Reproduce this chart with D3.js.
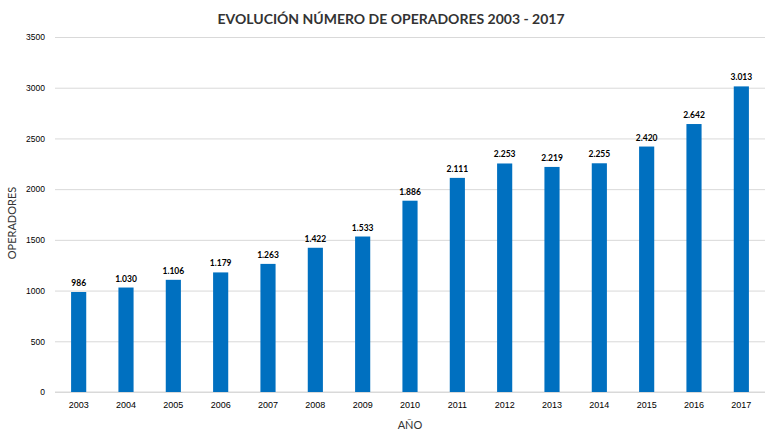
<!DOCTYPE html>
<html>
<head>
<meta charset="utf-8">
<script src="https://cdn.jsdelivr.net/npm/d3@7"></script>
<style>
  body { margin: 0; background: #fff; }
  svg { display: block; font-family: Lato, "Open Sans", sans-serif; }
  .domain { display: none; }
</style>
</head>
<body>
<div id="chart"></div>
<script>
var years = ['2003', '2004', '2005', '2006', '2007', '2008', '2009', '2010',
  '2011', '2012', '2013', '2014', '2015', '2016', '2017'];
var operadores = [986, 1030, 1106, 1179, 1263, 1422, 1533, 1886,
  2111, 2253, 2219, 2255, 2420, 2642, 3013];
var yTicks = [0, 500, 1000, 1500, 2000, 2500, 3000, 3500];

var width = 777, height = 437;
var margin = { top: 37, left: 55, right: 12, bottom: 45 };
var inW = width - margin.left - margin.right;
var inH = height - margin.top - margin.bottom;

var fmt = function (v) {
  return d3.format(',')(v).replace(/,/g, '.');
};

var svg = d3.select('#chart').append('svg')
  .attr('width', width)
  .attr('height', height);

svg.append('text')
  .attr('x', 391)
  .attr('y', 24)
  .attr('text-anchor', 'middle')
  .attr('font-size', 14)
  .attr('font-weight', 'bold')
  .attr('fill', '#333333')
  .text('EVOLUCIÓN NÚMERO DE OPERADORES 2003 - 2017');

var g = svg.append('g')
  .attr('transform', 'translate(' + margin.left + ',' + margin.top + ')');

var x = d3.scaleBand().range([0, inW]).domain(years).paddingInner(0.68).paddingOuter(0.34);
var y = d3.scaleLinear().range([inH, 0]).domain([0, 3500]);

var yAxis = g.append('g')
  .call(d3.axisLeft(y).tickValues(yTicks).tickFormat(d3.format('d')).tickSize(-inW).tickPadding(10));
yAxis.selectAll('text').attr('font-size', 8.5).attr('fill', '#000');
yAxis.selectAll('.tick line').attr('stroke', '#d9d9d9');

var xAxis = g.append('g')
  .attr('transform', 'translate(0,' + inH + ')')
  .call(d3.axisBottom(x).tickSize(0).tickPadding(10));
xAxis.selectAll('text').attr('font-size', 9).attr('fill', '#000');

g.append('line')
  .attr('x1', 0).attr('x2', inW)
  .attr('y1', inH).attr('y2', inH)
  .attr('stroke', '#d9d9d9');

g.selectAll('.bar')
  .data(years)
  .enter()
  .append('rect')
  .attr('class', 'bar')
  .attr('x', function (d) { return x(d); })
  .attr('y', function (d, i) { return y(operadores[i]); })
  .attr('width', x.bandwidth())
  .attr('height', function (d, i) { return inH - y(operadores[i]); })
  .attr('fill', '#0070c0');

g.selectAll('.label')
  .data(years)
  .enter()
  .append('text')
  .attr('class', 'label')
  .attr('x', function (d) { return x(d) + x.bandwidth() / 2; })
  .attr('y', function (d, i) { return y(operadores[i]) - 6; })
  .attr('text-anchor', 'middle')
  .attr('font-size', 8.5)
  .attr('font-weight', 'bold')
  .attr('fill', '#000')
  .text(function (d, i) { return fmt(operadores[i]); });

svg.append('text')
  .attr('x', margin.left + inW / 2)
  .attr('y', 429)
  .attr('text-anchor', 'middle')
  .attr('font-size', 11)
  .attr('fill', '#333333')
  .text('AÑO');

svg.append('text')
  .attr('transform', 'translate(16,223) rotate(-90)')
  .attr('text-anchor', 'middle')
  .attr('font-size', 11)
  .attr('fill', '#333333')
  .text('OPERADORES');
</script>
</body>
</html>
